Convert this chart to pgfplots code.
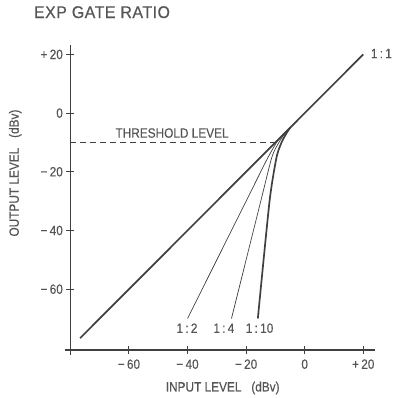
\documentclass[border=0pt]{standalone}
\usepackage{fontspec}
\setmainfont{Liberation Sans}[FakeBold=0.3]
\newfontfamily\cond{Liberation Sans}[FakeStretch=0.88, FakeBold=0.3]
\newfontfamily\titlefont{Liberation Sans}[FakeStretch=0.94, FakeBold=0.3, LetterSpace=3]
\usepackage{pgfplots}
\pgfplotsset{compat=1.18}
\definecolor{ink}{HTML}{404040}
\definecolor{txt}{HTML}{555555}
\begin{document}
\begin{tikzpicture}
\begin{axis}[
  name=ax,
  scale only axis,
  width=304.6bp, height=304.9bp,
  xmin=-80, xmax=24, ymin=-80.7, ymax=23.2,
  axis lines=left,
  axis line style={-, ink, line width=1.2bp, shorten <=-5bp},
  tick align=center,
  major tick length=8bp,
  tick style={ink, line width=1bp},
  xtick={-60,-40,-20,0,20},
  xticklabels={−\,60,−\,40,−\,20,0,+\,20},
  ytick={-60,-40,-20,0,20},
  yticklabels={−\,60,−\,40,−\,20,0,+\,20},
  tick label style={font=\cond\fontsize{13.5}{15}\selectfont, text=txt},
  xticklabel style={yshift=-2bp},
  xlabel={INPUT LEVEL\ \ \ (dBv)},
  ylabel={OUTPUT LEVEL\ \ \ (dBv)},
  label style={font=\cond\fontsize{13.5}{15}\selectfont, text=txt},
  xlabel style={at={(rel axis cs:0.5,-0.125)}, anchor=center},
  ylabel style={at={(rel axis cs:-0.181,0.58)}, anchor=center},
  title={EXP GATE RATIO},
  title style={at={(rel axis cs:-0.131,1.088)}, anchor=west, font=\titlefont\fontsize{17}{19}\selectfont, text=txt},
  clip=false,
]
% 1:1
\addplot[ink, line width=1.7bp] coordinates {(-76.7,-76.7) (20,20)};
% threshold
\addplot[ink, line width=1.1bp, dash pattern=on 6bp off 4bp] coordinates {(-80,-10) (-9.5,-10)};
% 1:2
\addplot[ink, line width=0.7bp, smooth, tension=0.4] coordinates {(-40,-70) (-20,-30) (-13,-16) (-9.6,-10) (-7.2,-7) (-5,-5)};
% 1:4
\addplot[ink, line width=0.7bp, smooth, tension=0.4] coordinates {(-25,-70) (-15,-30) (-11.2,-15) (-8.8,-10) (-6.8,-7) (-5,-5)};
% 1:10
\addplot[ink, line width=1.7bp, smooth, tension=0.4] coordinates {(-16,-70) (-12,-30) (-9.6,-15) (-7.9,-10) (-6.3,-7) (-5,-5)};
\node[anchor=west, text=txt, font=\cond\fontsize{13.5}{15}\selectfont] at (axis cs:-65.8,-6.8) {THRESHOLD LEVEL};
\node[text=txt, font=\cond\fontsize{13.5}{15}\selectfont] at (axis cs:-40.2,-73.3) {1\,:\,2};
\node[text=txt, font=\cond\fontsize{13.5}{15}\selectfont] at (axis cs:-27.6,-73.3) {1\,:\,4};
\node[text=txt, font=\cond\fontsize{13.5}{15}\selectfont] at (axis cs:-15.4,-73.3) {1\,:\,10};
\node[anchor=west, text=txt, font=\cond\fontsize{13.5}{15}\selectfont] at (axis cs:21.4,20.3) {1\,:\,1};
\end{axis}
\pgfresetboundingbox
\path[use as bounding box] ([xshift=-70.4bp,yshift=-48.1bp]ax.south west) rectangle ++(393bp,398bp);
\end{tikzpicture}
\end{document}
